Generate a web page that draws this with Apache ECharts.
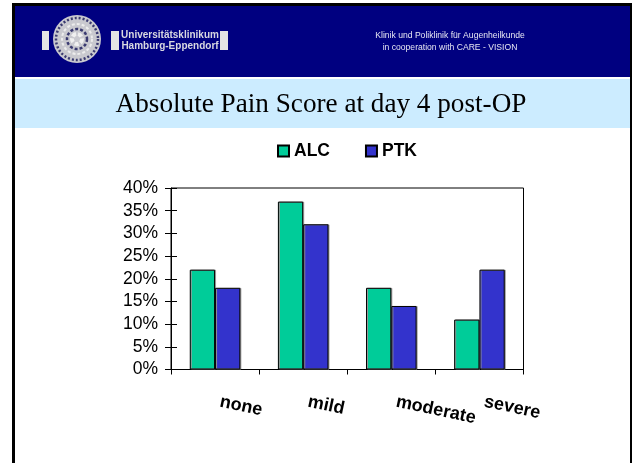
<!DOCTYPE html>
<html><head><meta charset="utf-8">
<style>html,body{margin:0;padding:0;background:#fff}#c{width:634px;height:463px}</style>
<script src="https://cdn.jsdelivr.net/npm/echarts@6/dist/echarts.min.js"></script>
</head><body><div id="c"></div>
<script>
const categories = ['none', 'mild', 'moderate', 'severe'];
const alcValues = [22, 37, 18, 11];
const ptkValues = [18, 32, 14, 22];
const titleText = 'Absolute Pain Score at day 4 post-OP';
const headerLines = 'Klinik und Poliklinik für Augenheilkunde\nin cooperation with CARE - VISION';
const logoLines = 'Universitätsklinikum\nHamburg-Eppendorf';
const sans = '"Liberation Sans", Arial, sans-serif';
const serif = '"Liberation Serif", "Times New Roman", serif';
const barStyle = c => ({color: c, borderColor: '#000', borderWidth: 1, shadowColor: '#999', shadowOffsetX: 1, shadowOffsetY: 0, shadowBlur: 0});
const rect = (x, y, w, h, fill, z) => ({type: 'rect', silent: true, z: z || 0, shape: {x, y, width: w, height: h}, style: {fill}});
const ring = (r, stroke, lw, dash) => ({type: 'circle', silent: true, z: 3, shape: {cx: 77, cy: 39, r}, style: {fill: 'none', stroke, lineWidth: lw, lineDash: dash}});
const chart = echarts.init(document.getElementById('c'), null, {renderer: 'canvas'});
chart.setOption({
  animation: false,
  backgroundColor: '#fff',
  legend: {
    data: ['ALC', 'PTK'], left: 277, top: 142, padding: 0, itemWidth: 11, itemHeight: 11, itemGap: 35,
    icon: 'rect',
    textStyle: {fontFamily: sans, fontWeight: 'bold', fontSize: 17.5, color: '#000', padding: [0, 0, 0, 0]}
  },
  grid: {left: 171, top: 188, width: 352.5, height: 181.5, show: true, borderColor: '#000', borderWidth: 1, backgroundColor: 'transparent'},
  xAxis: {
    type: 'category', data: categories,
    axisLine: {lineStyle: {color: '#000', width: 1}},
    axisTick: {show: true, length: 5, lineStyle: {color: '#000'}},
    axisLabel: {rotate: -12, margin: 31, padding: [0, 0, 0, 5], fontFamily: sans, fontWeight: 'bold', fontSize: 18, color: '#000', interval: 0}
  },
  yAxis: [{
    type: 'value', min: 0, max: 40, interval: 5,
    axisLine: {show: true, lineStyle: {color: '#000'}},
    axisTick: {show: true, length: 6, lineStyle: {color: '#000'}},
    splitLine: {show: false},
    axisLabel: {formatter: '{value}%', margin: 13, fontFamily: sans, fontSize: 17.5, color: '#000'}
  }, {
    type: 'value', min: 0, max: 40, interval: 5, position: 'left',
    axisLine: {show: false},
    axisTick: {show: true, inside: true, length: 6, lineStyle: {color: '#000'}},
    splitLine: {show: false},
    axisLabel: {show: false}
  }],
  series: [
    {name: 'ALC', type: 'bar', data: alcValues, barWidth: '28.7%', barGap: 0, itemStyle: barStyle('#00CC99')},
    {name: 'PTK', type: 'bar', data: ptkValues, barWidth: '28.7%', barGap: 0, itemStyle: barStyle('#3333CC')}
  ],
  graphic: [
    rect(12, 3, 620, 3, '#000'),
    rect(12, 3, 3, 460, '#000'),
    rect(630, 3, 2, 460, '#000'),
    rect(15, 6, 615, 71, '#000080', 1),
    rect(15, 79, 615, 49, '#CCECFF', 1),
    rect(42, 31, 7, 19, '#E4E4E4', 2),
    rect(111, 31, 8, 19, '#E4E4E4', 2),
    rect(220, 31, 8, 19, '#E4E4E4', 2),
    {type: 'circle', silent: true, z: 2, shape: {cx: 77, cy: 39, r: 24}, style: {fill: '#C9C9CF'}},
    ring(21, '#3A3A70', 2.5, [2, 2]),
    ring(15, '#EDEDED', 2, [3, 2]),
    ring(10, '#3A3A70', 2.5, [3, 2]),
    ring(5, '#F0F0F0', 4, [4, 2]),
    {type: 'text', silent: true, z: 3, x: 170, y: 40.5, style: {text: logoLines, fill: '#D8D8E0', fontFamily: sans, fontWeight: 'bold', fontSize: 10, lineHeight: 11, align: 'center', verticalAlign: 'middle'}},
    {type: 'text', silent: true, z: 3, x: 450, y: 42, style: {text: headerLines, fill: '#E6E6F2', fontFamily: sans, fontSize: 8.6, lineHeight: 12, align: 'center', verticalAlign: 'middle'}},
    {type: 'text', silent: true, z: 3, x: 321, y: 105, style: {text: titleText, fill: '#000', fontFamily: serif, fontSize: 27.2, align: 'center', verticalAlign: 'middle'}}
  ]
});
</script></body></html>
